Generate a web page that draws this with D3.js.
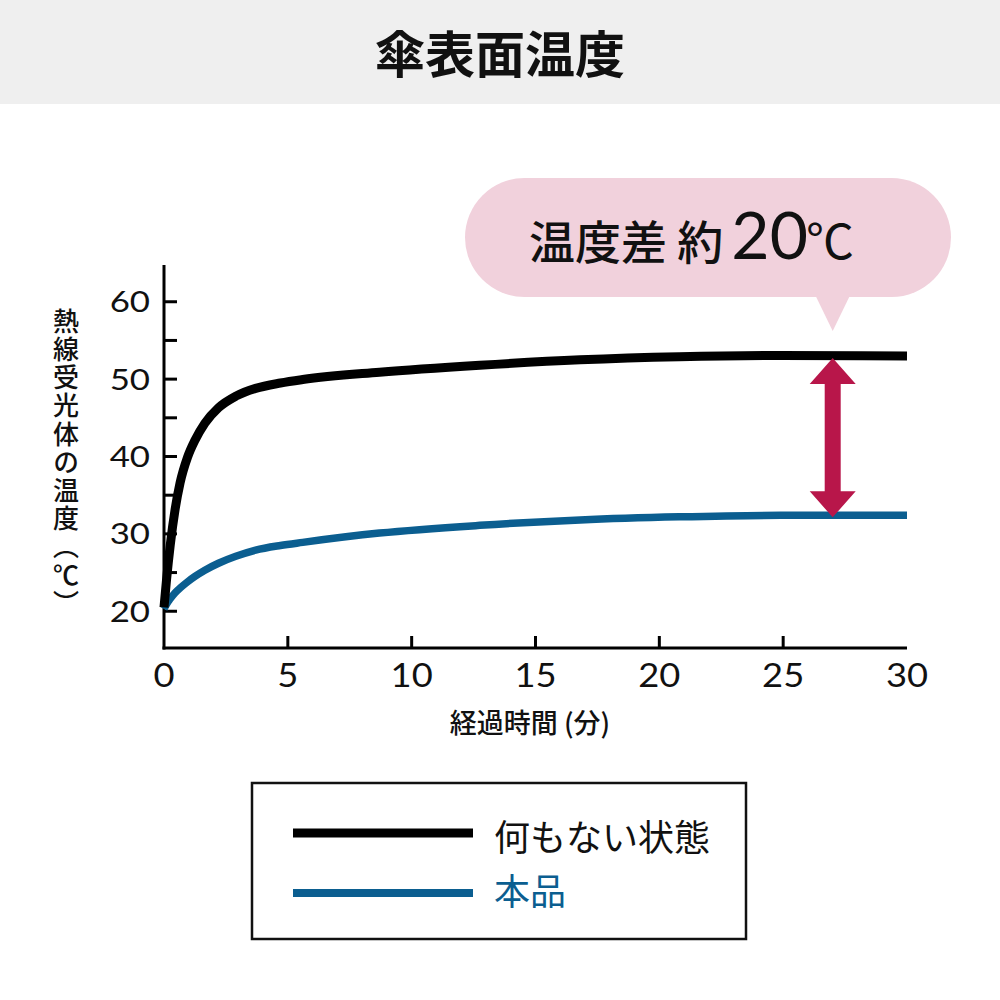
<!DOCTYPE html>
<html><head><meta charset="utf-8">
<script src="https://cdn.jsdelivr.net/npm/d3@7"></script>
<style>
html,body{margin:0;padding:0;background:#fff;}
svg{display:block;}
</style></head>
<body>
<svg id="chart" width="1000" height="1000"></svg>
<script>
// ---- data ----
const title = "傘表面温度";
const yTitle = "熱線受光体の温度（℃）";
const xTitle = "経過時間 (分)";
const calloutParts = ["温度差 約", "20", "℃"];
const seriesNames = ["何もない状態", "本品"];
const seriesColors = ["#000000", "#0b5e90"];
const times =         [0,    0.1,  0.25, 0.45, 0.65, 0.95, 1.25, 1.65, 2.2,  2.9,  3.7,  4.7,  5.6,   8.7,  12.75, 16.8, 20.8, 24.9,  30];
const noneValues =    [20.5, 24.0, 28.5, 33.2, 36.6, 39.9, 42.1, 44.3, 46.3, 47.8, 48.8, 49.5, 49.95, 50.9, 51.8,  52.5, 52.9, 53.05, 53.0];
const productValues = [20.3, 20.9, 21.6, 22.4, 23.0, 23.8, 24.5, 25.3, 26.2, 27.1, 27.9, 28.5, 28.9,  30.1, 31.1,  31.8, 32.2, 32.4,  32.4];
const xTicks = [0, 5, 10, 15, 20, 25, 30];
const yMajorTicks = [20, 30, 40, 50, 60];
const yMinorTicks = [25, 35, 45, 55];
const arrowAt = 27;

const svg = d3.select("#chart");
const numFont = "Lato, 'Noto Sans', sans-serif";
const jpFont = "'Noto Sans CJK JP', 'Noto Sans', sans-serif";

// header band
svg.append("rect").attr("x",0).attr("y",0).attr("width",1000).attr("height",104).attr("fill","#efefef");
svg.append("text").attr("x",500).attr("y",73).attr("text-anchor","middle")
  .attr("font-family",jpFont).attr("font-weight",700).attr("font-size",50).attr("fill","#111")
  .text(title);

// scales
const x = d3.scaleLinear().domain([0,30]).range([164,907]);
const y = d3.scaleLinear().domain([15.25,64.75]).range([648,265]);

// axes lines
svg.append("line").attr("x1",164).attr("x2",164).attr("y1",265).attr("y2",649.5)
  .attr("stroke","#000").attr("stroke-width",3);
svg.append("line").attr("x1",162.5).attr("x2",907).attr("y1",648).attr("y2",648)
  .attr("stroke","#000").attr("stroke-width",3);

// y ticks
svg.selectAll(".ytick").data(yMajorTicks.concat(yMinorTicks)).enter().append("line")
  .attr("x1",164).attr("x2",177).attr("y1",d=>y(d)).attr("y2",d=>y(d))
  .attr("stroke","#000").attr("stroke-width",3);
svg.selectAll(".ylab").data(yMajorTicks).enter().append("text")
  .attr("transform",d=>`translate(150,${y(d)+10.5}) scale(1.2,1)`).attr("text-anchor","end")
  .attr("font-family",numFont).attr("font-size",29).attr("fill","#111").text(d=>d);

// x ticks
svg.selectAll(".xtick").data(xTicks.filter(d=>d>0 && d<30)).enter().append("line")
  .attr("x1",d=>x(d)).attr("x2",d=>x(d)).attr("y1",648).attr("y2",636)
  .attr("stroke","#000").attr("stroke-width",3);
svg.selectAll(".xlab").data(xTicks).enter().append("text")
  .attr("transform",d=>`translate(${x(d)},${687}) scale(1.1,1)`).attr("text-anchor","middle")
  .attr("font-family",numFont).attr("font-size",33).attr("fill","#111").text(d=>d);

// axis titles
svg.append("text").attr("x",530).attr("y",733).attr("text-anchor","middle")
  .attr("font-family",jpFont).attr("font-weight",500).attr("font-size",27).attr("fill","#111")
  .text(xTitle);
svg.append("text").attr("x",66).attr("y",308)
  .attr("font-family",jpFont).attr("font-weight",500).attr("font-size",26).attr("fill","#111")
  .style("writing-mode","vertical-rl").style("text-orientation","upright")
  .attr("letter-spacing",2.2)
  .text(yTitle);

// lines
const line = d3.line().x(d=>x(d[0])).y(d=>y(d[1])).curve(d3.curveMonotoneX);
const seriesData = [noneValues, productValues];
seriesData.slice().reverse().forEach((vals,ri)=>{
  const i = seriesData.length-1-ri;
  svg.append("path").datum(times.map((t,k)=>[t,vals[k]]))
    .attr("d",line).attr("fill","none").attr("stroke",seriesColors[i])
    .attr("stroke-width", i===0?9:7.5).attr("stroke-linejoin","round");
});

// double arrow
const ax = x(arrowAt);
const yTop = y(53.0) + 2;
const yBot = y(32.4) + 2;
const hw = 23, hh = 26, sw = 8;
const arrowPath = `M${ax},${yTop} L${ax+hw},${yTop+hh} L${ax+sw},${yTop+hh} L${ax+sw},${yBot-hh} L${ax+hw},${yBot-hh} L${ax},${yBot} L${ax-hw},${yBot-hh} L${ax-sw},${yBot-hh} L${ax-sw},${yTop+hh} L${ax-hw},${yTop+hh} Z`;
svg.append("path").attr("d",arrowPath).attr("fill","#b8164a");

// callout bubble
const bubble = svg.append("g");
bubble.append("rect").attr("x",465).attr("y",178).attr("width",486).attr("height",119)
  .attr("rx",59.5).attr("fill","#f1d1dc");
bubble.append("path").attr("d",`M${ax-17},296 L${ax+17},296 L${ax},331 Z`).attr("fill","#f1d1dc");
const ct = bubble.append("text").attr("x",529).attr("y",259).attr("fill","#111");
ct.append("tspan").attr("font-family",jpFont).attr("font-weight",500).attr("font-size",46).text(calloutParts[0]);
ct.append("tspan").attr("font-family",numFont).attr("font-size",66).attr("dx",8).text(calloutParts[1]);
ct.append("tspan").attr("font-family",jpFont).attr("font-size",48).attr("dx",-2).text(calloutParts[2]);

// legend
svg.append("rect").attr("x",252).attr("y",783).attr("width",494).attr("height",156)
  .attr("fill","#fff").attr("stroke","#111").attr("stroke-width",2.5);
const legY = [833, 893];
seriesNames.forEach((n,i)=>{
  svg.append("line").attr("x1",293).attr("x2",473).attr("y1",legY[i]).attr("y2",legY[i])
    .attr("stroke",seriesColors[i]).attr("stroke-width",i===0?9:8);
  svg.append("text").attr("x",494).attr("y",legY[i]+(i===0?18:12)).attr("font-family",jpFont)
    .attr("font-weight",400).attr("font-size",36).attr("fill",i===0?"#111":seriesColors[i]).text(n);
});
</script>
</body></html>
